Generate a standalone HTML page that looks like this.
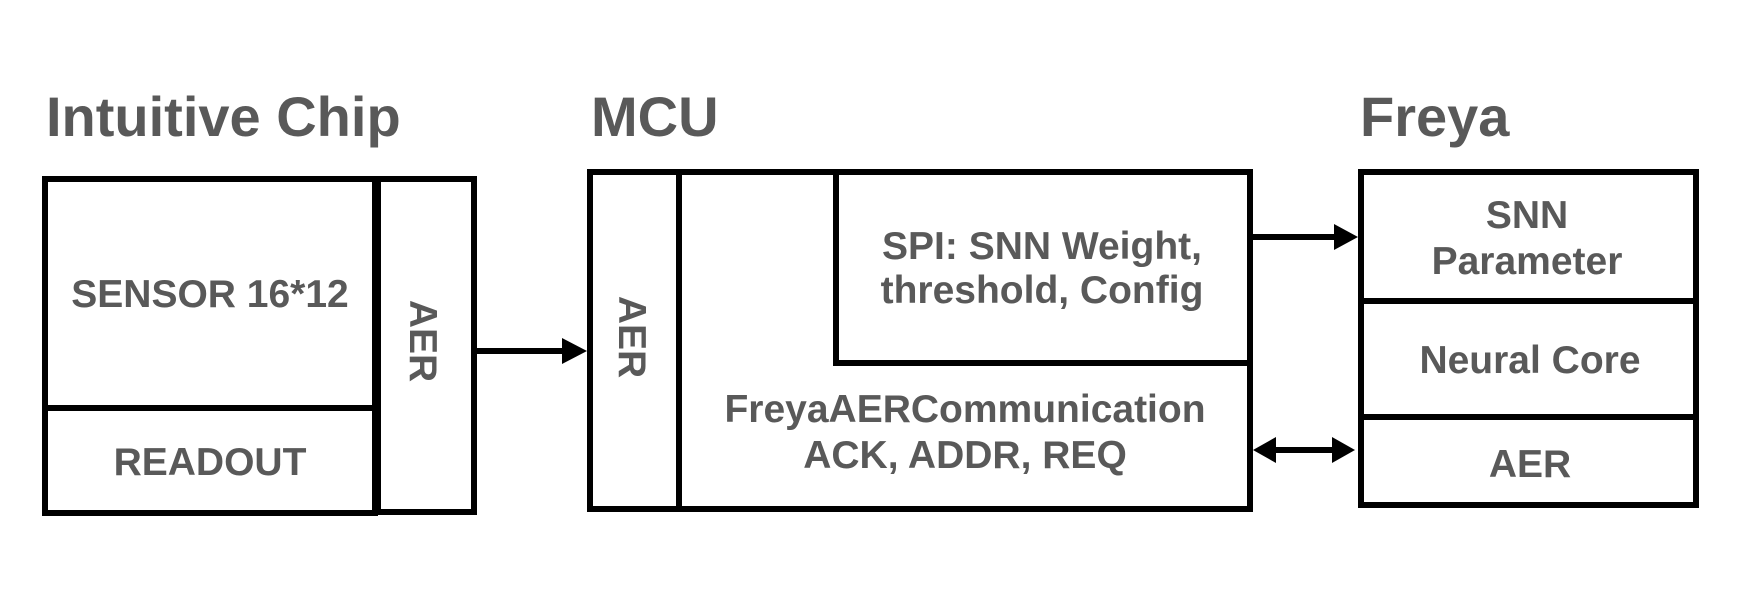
<!DOCTYPE html>
<html><head><style>html,body{margin:0;padding:0;background:#fff}svg{display:block}</style></head>
<body>
<svg width="1738" height="608" viewBox="0 0 1738 608" xmlns="http://www.w3.org/2000/svg">
<g fill="none" stroke="#000" stroke-width="6">
<rect x="45" y="179" width="330" height="229"/>
<rect x="45" y="408" width="330" height="105"/>
<rect x="378" y="179" width="96" height="333"/>
<rect x="590" y="172" width="660" height="337"/>
<line x1="679" y1="172" x2="679" y2="509"/>
<rect x="836" y="172" width="414" height="191"/>
<rect x="1361" y="172" width="335" height="333"/>
<line x1="1361" y1="301" x2="1696" y2="301"/>
<line x1="1361" y1="417" x2="1696" y2="417"/>
<line x1="474" y1="351" x2="565" y2="351"/>
<line x1="1250" y1="237" x2="1338" y2="237"/>
<line x1="1272" y1="450" x2="1336" y2="450"/>
</g>
<g fill="#000">
<polygon points="587,351 562,338 562,364"/>
<polygon points="1358,237 1334,224 1334,250"/>
<polygon points="1355,450 1332,437 1332,463"/>
<polygon points="1253,450 1276,437 1276,463"/>
</g>
<g fill="#595959" font-family="Liberation Sans, sans-serif" font-weight="bold">
<text x="46" y="136" font-size="56">Intuitive Chip</text>
<text x="591" y="136" font-size="56">MCU</text>
<text x="1360" y="136" font-size="56">Freya</text>
<g font-size="39" text-anchor="middle">
<text x="210" y="307">SENSOR 16*12</text>
<text x="210" y="475">READOUT</text>
<text transform="translate(410 341) rotate(90)">AER</text>
<text transform="translate(619 337) rotate(90)">AER</text>
<text x="1042" y="259">SPI: SNN Weight,</text>
<text x="1042" y="303">threshold, Config</text>
<text x="965" y="422">FreyaAERCommunication</text>
<text x="965" y="468">ACK, ADDR, REQ</text>
<text x="1527" y="228">SNN</text>
<text x="1527" y="274">Parameter</text>
<text x="1530" y="373">Neural Core</text>
<text x="1530" y="477">AER</text>
</g>
</g>
</svg>
</body></html>
